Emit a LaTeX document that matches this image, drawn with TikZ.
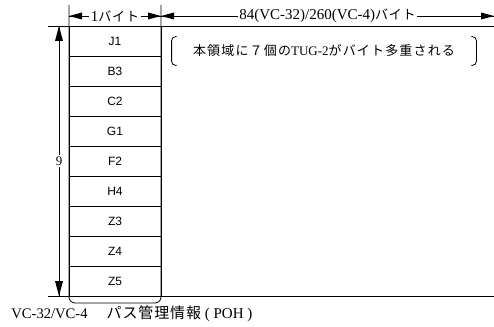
\documentclass[tikz,border=0pt]{standalone}
\usepackage{fontspec}
\setmainfont{Liberation Serif}
\newfontfamily\jp[LetterSpace=6]{Noto Sans CJK JP}
\newfontfamily\jpnote[LetterSpace=9]{Noto Sans CJK JP}
\newfontfamily\lab{Liberation Sans}

\begin{document}
\begin{tikzpicture}[
            x=1pt,y=-1pt,
            line width=0.8pt,
            byterow/.style={draw,minimum width=92pt,minimum height=30pt,inner sep=0pt,
                font=\lab\fontsize{12}{14}\selectfont},
            dimlabel/.style={fill=white,inner sep=1.5pt,font=\fontsize{15}{16}\selectfont}
        ]
        \useasboundingbox (0,0) rectangle (494,326);
        % rows of the POH column
        \foreach \name [count=\i] in {J1,B3,C2,G1,F2,H4,Z3,Z4,Z5}
            \node[byterow] (r\i) at (115,{11+30*\i}) {\name};
        % column sides, closed below
        \draw[rounded corners=6pt] (69,5) -- (69,303) -- (161,303) -- (161,5);
        % frame lines
        \coordinate (topL) at (48,26);
        \coordinate (topR) at (494,26);
        \coordinate (botL) at (48,296);
        \coordinate (botR) at (494,296);
        \draw (topL) -- (topR);
        \draw (botL) -- (botR);
        % byte widths
        \coordinate (wA) at (69,16);
        \coordinate (wB) at (161,16);
        \coordinate (wC) at (494,16);
        \draw (wA) -- node[dimlabel]
            {1{\jp\fontsize{13}{14}\selectfont バイト}} (wB);
        \draw (wB) -- node[dimlabel]
            {84(VC-32)/260(VC-4){\jp\fontsize{13}{14}\selectfont バイト}} (wC);
        \fill (wA) -- ++(13,-3.5) -- ++(0,7) -- cycle;
        \fill (wB) -- ++(-13,-3.5) -- ++(0,7) -- cycle;
        \fill (wB) -- ++(13,-3.5) -- ++(0,7) -- cycle;
        \fill (wC) -- ++(-13,-3.5) -- ++(0,7) -- cycle;
        % row count
        \coordinate (hA) at (59,26);
        \coordinate (hB) at (59,296);
        \draw (hA) -- node[dimlabel,font=\fontsize{13}{14}\selectfont] {9} (hB);
        \fill (hA) -- ++(-4,15) -- ++(8,0) -- cycle;
        \fill (hB) -- ++(-4,-15) -- ++(8,0) -- cycle;
        % note on the payload area
        \node[minimum width=304pt,minimum height=28pt,inner sep=0pt,
            font=\jpnote\fontsize{13}{14}\selectfont] (note) at (324,51)
            {本領域に７個の{\rmfamily\fontsize{13}{14}\selectfont TUG-2}がバイト多重される};
        \draw[rounded corners=4pt] ([xshift=5pt]note.north west) -- (note.north west)
            -- (note.south west) -- ([xshift=5pt]note.south west);
        \draw[rounded corners=4pt] ([xshift=-5pt]note.north east) -- (note.north east)
            -- (note.south east) -- ([xshift=-5pt]note.south east);
        % caption
        \node[anchor=west,inner sep=0pt,font=\fontsize{14.6}{16}\selectfont] (poh) at (11,314)
            {VC-32/VC-4\hspace{19pt}{\jp\fontsize{15}{16}\selectfont パス管理情報}\fontsize{15}{16}\selectfont\ ( POH )};
    \end{tikzpicture}
\end{document}
